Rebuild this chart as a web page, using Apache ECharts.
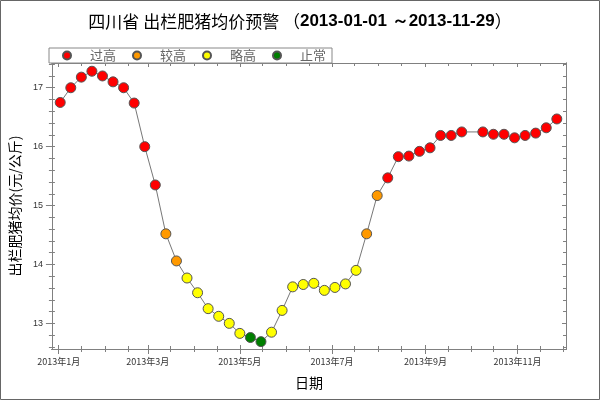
<!DOCTYPE html>
<html>
<head>
<meta charset="utf-8">
<script src="https://cdn.jsdelivr.net/npm/echarts@6/dist/echarts.min.js"></script>
<style>
  html, body { margin: 0; padding: 0; background: #fff; }
  #chart { width: 600px; height: 400px; }
</style>
</head>
<body>
<div id="chart"></div>
<script>
// weekly sample dates (2013-10-02 missing, holiday week)
const dates = [
  "2013-01-02", "2013-01-09", "2013-01-16", "2013-01-23", "2013-01-30", "2013-02-06", "2013-02-13", "2013-02-20",
  "2013-02-27", "2013-03-06", "2013-03-13", "2013-03-20", "2013-03-27", "2013-04-03", "2013-04-10", "2013-04-17",
  "2013-04-24", "2013-05-01", "2013-05-08", "2013-05-15", "2013-05-22", "2013-05-29", "2013-06-05", "2013-06-12",
  "2013-06-19", "2013-06-26", "2013-07-03", "2013-07-10", "2013-07-17", "2013-07-24", "2013-07-31", "2013-08-07",
  "2013-08-14", "2013-08-21", "2013-08-28", "2013-09-04", "2013-09-11", "2013-09-18", "2013-09-25",
  "2013-10-09", "2013-10-16", "2013-10-23", "2013-10-30", "2013-11-06", "2013-11-13", "2013-11-20", "2013-11-27",
];
const prices = [
  16.75, 17.0, 17.18, 17.28, 17.2, 17.1, 17.0, 16.74, 16.0, 15.35,
  14.52, 14.06, 13.77, 13.52, 13.25, 13.12, 13.0, 12.83, 12.76, 12.69,
  12.85, 13.22, 13.62, 13.66, 13.68, 13.56, 13.61, 13.67, 13.9, 14.52,
  15.17, 15.47, 15.83, 15.84, 15.92, 15.98, 16.19, 16.19, 16.25,
  16.25, 16.21, 16.21, 16.15, 16.19, 16.23, 16.32, 16.47,
];
// warning level of each point: 0 过高, 1 较高, 2 略高, 3 止常
const levels = [
  0, 0, 0, 0, 0, 0, 0, 0, 0, 0,
  1, 1, 2, 2, 2, 2, 2, 2, 3, 3,
  2, 2, 2, 2, 2, 2, 2, 2, 2, 1,
  1, 0, 0, 0, 0, 0, 0, 0, 0,
  0, 0, 0, 0, 0, 0, 0, 0,
];
const levelNames = ["过高", "较高", "略高", "止常"];
const levelColors = ["#ff0000", "#ff9900", "#ffff00", "#007f00"];
const yLabels = [13, 14, 15, 16, 17];

const toDate = (s) => {
  const p = s.split("-");
  return +new Date(+p[0], +p[1] - 1, +p[2]);
};

const xMin = +new Date(2012, 11, 27, 12);
const xMax = +new Date(2013, 11, 3, 2);
const yMin = 12.565;
const yMax = 17.42;

// month ticks: odd months get a long tick + label, the rest short ticks
const majorX = [];
const minorX = [];
for (let m = 0; m < 12; m++) {
  if (m % 2 === 0) majorX.push(+new Date(2013, m, 1));
  else minorX.push(+new Date(2013, m, 1));
  minorX.push(+new Date(2013, m, 16));
}
const minorY = [];
for (let v = 12.6; v < 17.41; v += 0.2) minorY.push(Math.round(v * 10) / 10);

const gray = "#808080";

const xAxis = (position, ticks, len, inside, showLabel) => ({
  type: "value",
  position,
  min: xMin,
  max: xMax,
  axisLine: { show: true, onZero: false, lineStyle: { color: gray, width: 1 } },
  splitLine: { show: false },
  axisTick: { show: true, inside, length: len, customValues: ticks, lineStyle: { color: gray } },
  axisLabel: showLabel
    ? {
        customValues: ticks,
        margin: 8,
        fontSize: 9,
        color: "#333",
        fontFamily: "Noto Sans CJK SC",
        formatter: (v) => {
          const d = new Date(v);
          return d.getFullYear() + "年" + (d.getMonth() + 1) + "月";
        },
      }
    : { show: false },
  name: showLabel ? "日期" : "",
  nameLocation: "middle",
  nameGap: 27,
  nameTextStyle: { fontSize: 14, color: "#000", fontFamily: "Noto Sans CJK SC" },
});

const yAxis = (position, ticks, len, inside, showLabel) => ({
  type: "value",
  position,
  min: yMin,
  max: yMax,
  axisLine: { show: true, onZero: false, lineStyle: { color: gray, width: 1 } },
  splitLine: { show: false },
  axisTick: { show: true, inside, length: len, customValues: ticks, lineStyle: { color: gray } },
  axisLabel: showLabel
    ? { customValues: ticks, margin: 9, fontSize: 9, color: "#333", fontFamily: "Liberation Sans" }
    : { show: false },
  name: showLabel ? "出栏肥猪均价(元/公斤)" : "",
  nameLocation: "middle",
  nameGap: 24,
  nameTextStyle: { fontSize: 14, color: "#000", fontFamily: "Noto Sans CJK SC" },
});

const linePoints = dates.map((d, i) => [toDate(d), prices[i]]);

const scatterSeries = levelNames.map((name, k) => ({
  name,
  type: "scatter",
  symbol: "circle",
  symbolSize: 10,
  z: 3,
  itemStyle: { color: levelColors[k], borderColor: "#555", borderWidth: 1, opacity: 1 },
  data: linePoints.filter((p, i) => levels[i] === k),
}));

const chart = echarts.init(document.getElementById("chart"));
chart.setOption({
  backgroundColor: "#fff",
  animation: false,
  title: {
    text: "{a|四川省 出栏肥猪均价预警 （}{b|2013-01-01 ～2013-11-29}{a|）}",
    left: "center",
    top: 13,
    padding: 0,
    textStyle: {
      fontWeight: "normal",
      rich: {
        a: { fontSize: 17, color: "#000", fontWeight: "normal", fontFamily: "Noto Sans CJK SC" },
        b: { fontSize: 17, color: "#000", fontWeight: "bold", fontFamily: "Liberation Sans" },
      },
    },
  },
  legend: {
    data: levelNames,
    left: 49,
    top: 48,
    icon: "circle",
    itemWidth: 8,
    itemHeight: 8,
    itemGap: 16,
    padding: [1, 6, 1, 13],
    borderColor: "#888",
    borderWidth: 1,
    backgroundColor: "#fff",
    textStyle: { fontSize: 13, color: "#666", fontFamily: "Noto Sans CJK SC", padding: [0, 0, 0, 14] },
  },
  grid: { left: 49, right: 34, top: 63, bottom: 51 },
  xAxis: [
    xAxis("bottom", majorX, 5, false, true),
    xAxis("bottom", majorX, 4, true, false),
    xAxis("bottom", minorX, 3, false, false),
    xAxis("bottom", minorX, 3, true, false),
    xAxis("top", majorX, 4, true, false),
    xAxis("top", minorX, 3, true, false),
  ],
  yAxis: [
    yAxis("left", yLabels, 6, false, true),
    yAxis("left", yLabels, 3, true, false),
    yAxis("left", minorY, 3, false, false),
    yAxis("left", minorY, 3, true, false),
    yAxis("right", yLabels, 4, true, false),
    yAxis("right", minorY, 3, true, false),
  ],
  graphic: [
    {
      type: "rect",
      shape: { x: 0.5, y: 0.5, width: 599, height: 399 },
      style: { fill: "none", stroke: "#666", lineWidth: 1 },
      silent: true,
    },
  ],
  series: [
    {
      type: "line",
      symbol: "none",
      z: 2,
      lineStyle: { color: "#777", width: 1 },
      data: linePoints,
    },
    ...scatterSeries,
  ],
});
</script>
</body>
</html>
